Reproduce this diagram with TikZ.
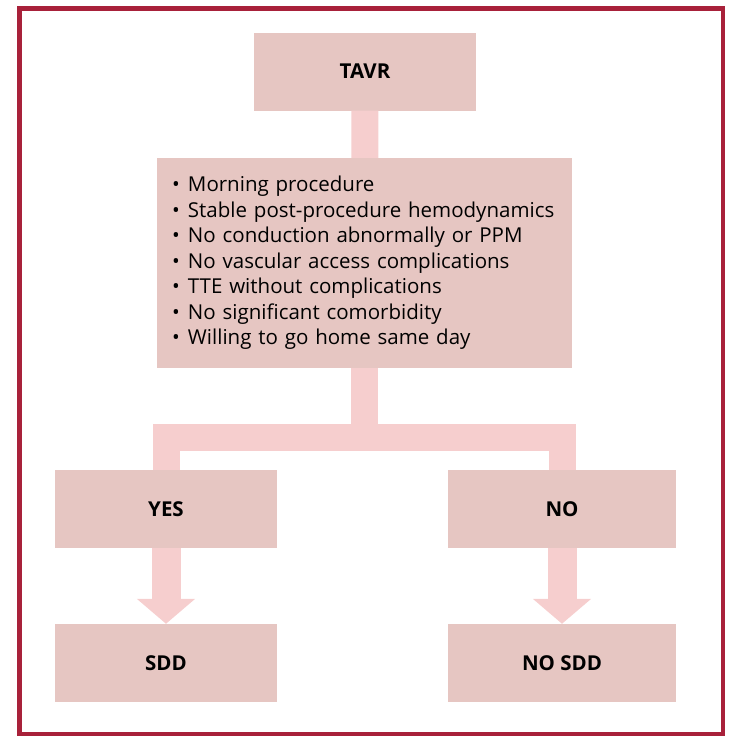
\documentclass[tikz,border=0pt]{standalone}
\usepackage{fontspec}
\setmainfont{Open Sans}
\usetikzlibrary{arrows.meta}

\definecolor{framered}{RGB}{168,33,58}
\definecolor{boxpink}{RGB}{230,198,194}
\definecolor{bandpink}{RGB}{246,206,206}

\newcommand{\crititem}[1]{\makebox[16pt][l]{\textbullet}#1}

\tikzset{
	box/.style={fill=boxpink, minimum width=222pt, minimum height=78pt, inner sep=0pt,
		font=\fontsize{20.5}{24}\selectfont\bfseries},
	critbox/.style={box, minimum width=415pt, minimum height=210pt, text width=385pt,
		align=left, font=\fontsize{20.5}{25.5}\selectfont},
	band/.style={draw=bandpink, line width=27pt},
	downband/.style={draw=bandpink, fill=bandpink, line width=29pt,
		-{Triangle[width=57pt,length=25pt]}},
}

\begin{document}
\begin{tikzpicture}[x=1pt,y=1pt]
			\useasboundingbox (0,0) rectangle (744,-750);
			
			% outer frame
			\draw[framered, line width=4.5pt] (19.5,-8.5) rectangle (723,-734);
			
			\node[box] (tavr) at (365,-71.5) {TAVR};
			\node[critbox] (crit) at (364.5,-263) {%
				\crititem{Morning procedure}\\
				\crititem{Stable post-procedure hemodynamics}\\
				\crititem{No conduction abnormally or PPM}\\
				\crititem{No vascular access complications}\\
				\crititem{TTE without complications}\\
				\crititem{No significant comorbidity}\\
				\crititem{Willing to go home same day}};
			
			\node[box] (yes) at (166,-509) {YES};
			\node[box, minimum width=228pt] (no) at (562,-509) {NO};
			\node[box] (sdd) at (166,-663) {SDD};
			\node[box, minimum width=228pt] (nosdd) at (562,-663) {NO SDD};
			
			% connectors
			\draw[band] (tavr) -- (crit);
			\draw[band] (crit.south) -- ++(0,-69.5) -| (yes.north);
			\draw[band] (crit.south) -- ++(0,-69.5) -| (no.north);
			
			\draw[downband] (yes) -- (sdd);
			\draw[downband] (no) -- (nosdd);
\end{tikzpicture}
\end{document}
